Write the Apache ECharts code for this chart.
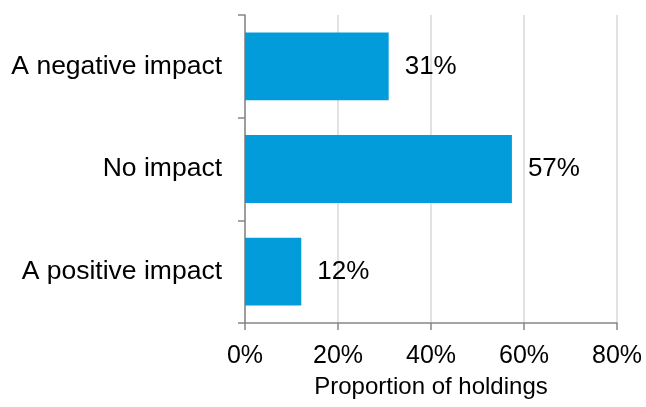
<!DOCTYPE html>
<html><head><meta charset="utf-8">
<script src="https://cdn.jsdelivr.net/npm/echarts@6/dist/echarts.min.js"></script>
<style>html,body{margin:0;padding:0;background:#fff}#c{width:646px;height:407px}</style>
</head><body><div id="c"></div>
<script>
const categories = ['A negative impact', 'No impact', 'A positive impact'];
const values = [30.9, 57.4, 12.1];
const xTicks = [0, 20, 40, 60, 80];
const xName = 'Proportion of holdings';

const chart = echarts.init(document.getElementById('c'), null, {renderer: 'canvas'});
const font = 'Liberation Sans, Arial, sans-serif';
chart.setOption({
  animation: false,
  grid: {left: 245, right: 29, top: 15, bottom: 84, containLabel: false},
  xAxis: {
    type: 'value', min: xTicks[0], max: xTicks[xTicks.length - 1], interval: 20,
    name: xName, nameLocation: 'middle', nameGap: 52,
    nameTextStyle: {fontFamily: font, fontSize: 24, color: '#000'},
    axisLine: {show: true, lineStyle: {color: '#868686', width: 1.5}},
    axisTick: {show: true, length: 7, lineStyle: {color: '#868686', width: 1.5}},
    axisLabel: {fontFamily: font, fontSize: 25, color: '#000', margin: 21, formatter: v => v + '%'},
    splitLine: {show: true, lineStyle: {color: '#d9d9d9', width: 1.5}}
  },
  yAxis: {
    type: 'category', data: categories, inverse: true,
    axisLine: {show: true, lineStyle: {color: '#868686', width: 1.5}},
    axisTick: {show: true, length: 7, lineStyle: {color: '#868686', width: 1.5}},
    axisLabel: {fontFamily: font, fontSize: 26.5, color: '#000', margin: 23},
    splitLine: {show: false}
  },
  series: [{
    type: 'bar', data: values, barCategoryGap: '34%',
    itemStyle: {color: '#039cdb'},
    label: {show: true, position: 'right', distance: 16, fontFamily: font, fontSize: 26, color: '#000', formatter: p => Math.round(p.value) + '%'}
  }]
});
</script></body></html>
